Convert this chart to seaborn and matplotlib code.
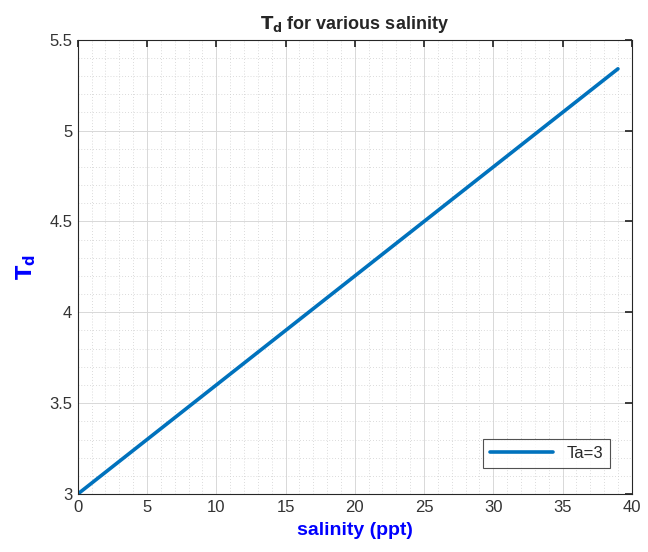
import seaborn as sns
import matplotlib.pyplot as plt
from matplotlib.ticker import MultipleLocator

# values
salinity = [0, 10, 20, 30, 39]
td = [3.0, 3.6, 4.2, 4.8, 5.34]
series_label = "Ta=3"

sns.set_theme(style="white")
plt.rcParams['font.family'] = ['Liberation Sans', 'DejaVu Sans']

fig = plt.figure(figsize=(6.48, 5.52), dpi=100)
ax = fig.add_axes([0.120, 0.105, 0.855, 0.823])

sns.lineplot(x=salinity, y=td, ax=ax, color="#0072BD", linewidth=2.6, label=series_label)

ax.set_xlim(0, 40)
ax.set_ylim(3, 5.5)
ax.xaxis.set_major_locator(MultipleLocator(5))
ax.xaxis.set_minor_locator(MultipleLocator(1))
ax.yaxis.set_major_locator(MultipleLocator(0.5))
ax.yaxis.set_minor_locator(MultipleLocator(0.1))
ax.set_yticks([3, 3.5, 4, 4.5, 5, 5.5])
ax.set_yticklabels(["3", "3.5", "4", "4.5", "5", "5.5"])

ax.grid(which="major", color="#d8d8d8", linewidth=0.7)
ax.grid(which="minor", color="#cfcfcf", linewidth=0.6, linestyle=(0, (1, 2.5)))
ax.set_axisbelow(True)

for s in ax.spines.values():
    s.set_color("#262626")
    s.set_linewidth(0.8)
ax.tick_params(which="major", direction="in", length=5, top=True, right=True,
               color="#262626", labelsize=12, labelcolor="#333333", pad=4)
ax.tick_params(which="minor", length=0)

ax.set_xlabel("salinity (ppt)", color="blue", fontsize=14, fontweight="bold", labelpad=5)
ax.set_ylabel(r"$\mathbf{T_d}$", color="blue", fontsize=15, labelpad=8)
ax.set_title(r"$\mathbf{T_d}$ for various salinity", fontsize=13, fontweight="bold", pad=8)

leg = ax.legend(loc="lower right", frameon=True, fancybox=False, fontsize=12,
                handlelength=3.8, borderpad=0.4, bbox_to_anchor=(0.975, 0.04))
leg.get_frame().set_edgecolor("#262626")
leg.get_frame().set_linewidth(0.8)

fig.savefig("out.png", dpi=100)
